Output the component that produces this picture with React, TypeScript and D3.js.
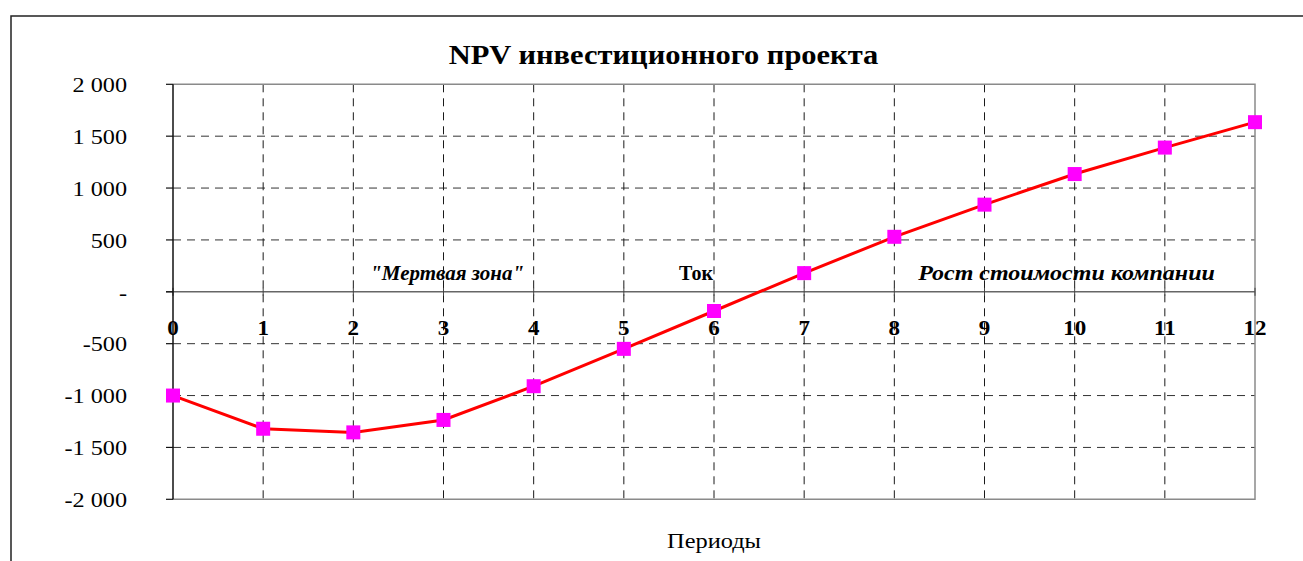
import React from "react";
import * as d3 from "d3";

const periods = [0, 1, 2, 3, 4, 5, 6, 7, 8, 9, 10, 11, 12];
const npv = [-1000, -1320, -1355, -1235, -910, -550, -185, 180, 530, 840, 1135, 1390, 1635];
const yTicks = [2000, 1500, 1000, 500, 0, -500, -1000, -1500, -2000];
const yTickLabels = ["2 000", "1 500", "1 000", "500", "-", "-500", "-1 000", "-1 500", "-2 000"];
const title = "NPV инвестиционного проекта";
const xTitle = "Периоды";
const annotations = [
  { text: "\"Мертвая зона\"", period: 3.04, italic: true, sx: 1.05 },
  { text: "Ток", period: 5.8, italic: false, sx: 1.0 },
  { text: "Рост стоимости компании", period: 9.91, italic: true, sx: 1.2 },
];

const W = 1303;
const H = 561;
const left = 173;
const right = 1255;
const top = 84.3;
const bottom = 499.3;
const font = "'Liberation Serif', 'Times New Roman', serif";

function SText(props: {
  x: number;
  y: number;
  sx?: number;
  anchor?: string;
  size: number;
  bold?: boolean;
  italic?: boolean;
  dy?: string;
  children: React.ReactNode;
}) {
  const { x, y, sx = 1, anchor = "middle", size, bold, italic, dy, children } = props;
  return (
    <text
      transform={`translate(${x},${y}) scale(${sx},1)`}
      textAnchor={anchor}
      fontSize={size}
      fontWeight={bold ? "bold" : "normal"}
      fontStyle={italic ? "italic" : "normal"}
      dy={dy}
      fill="#000"
    >
      {children}
    </text>
  );
}

export default function App() {
  const x = d3.scaleLinear().domain([0, 12]).range([left, right]);
  const y = d3.scaleLinear().domain([-2000, 2000]).range([bottom, top]);
  const line = d3
    .line<number>()
    .x((_, i) => x(periods[i]))
    .y((d) => y(d));
  const ms = 14;
  return (
    <svg
      width={W}
      height={H}
      style={{ position: "absolute", left: 0, top: 0, background: "#fff" }}
      fontFamily={font}
    >
      <rect x={0} y={0} width={W} height={H} fill="#fff" />
      {/* outer chart frame */}
      <path d={`M11,${H + 5} L11,16 L${W + 5},16`} fill="none" stroke="#222" strokeWidth={1.5} />
      <SText x={663.5} y={63.5} size={27} bold sx={1.13}>
        {title}
      </SText>
      {/* horizontal gridlines */}
      {yTicks.filter((t) => t !== 0 && t !== 2000 && t !== -2000).map((t) => (
        <line key={"h" + t} x1={left} x2={right} y1={y(t)} y2={y(t)} stroke="#333" strokeWidth={1} strokeDasharray="8,6" />
      ))}
      {/* vertical gridlines */}
      {periods.slice(1, -1).map((p) => (
        <line key={"v" + p} x1={x(p)} x2={x(p)} y1={top} y2={bottom} stroke="#1a1a1a" strokeWidth={1} strokeDasharray="8,6" />
      ))}
      {/* plot border */}
      <path d={`M${left},${top} L${right},${top} L${right},${bottom} L${left},${bottom}`} fill="none" stroke="#8a8a8a" strokeWidth={1.5} />
      {/* zero axis */}
      <line x1={left - 7} x2={right} y1={y(0)} y2={y(0)} stroke="#666" strokeWidth={1.5} />
      {periods.map((p) => (
        <line key={"xt" + p} x1={x(p)} x2={x(p)} y1={y(0) - 4} y2={y(0) + 4} stroke="#444" strokeWidth={1} />
      ))}
      {/* y axis */}
      <line x1={left} x2={left} y1={top} y2={bottom} stroke="#111" strokeWidth={1.5} />
      {yTicks.map((t, i) => (
        <g key={"yt" + t}>
          <line x1={left - 7} x2={left} y1={y(t)} y2={y(t)} stroke="#111" strokeWidth={1.2} />
          <SText x={127} y={y(t)} dy="0.35em" anchor="end" size={22} sx={1.1}>
            {yTickLabels[i]}
          </SText>
        </g>
      ))}
      {/* category labels */}
      {periods.map((p) => (
        <SText key={"xl" + p} x={x(p)} y={335} size={20} bold sx={1.15}>
          {p}
        </SText>
      ))}
      {/* annotations */}
      {annotations.map((a) => (
        <SText key={a.text} x={x(a.period)} y={280} size={20} bold italic={a.italic} sx={a.sx}>
          {a.text}
        </SText>
      ))}
      {/* series */}
      <path d={line(npv) || ""} fill="none" stroke="#ff0000" strokeWidth={3} />
      {npv.map((v, i) => (
        <rect key={"m" + i} x={x(periods[i]) - ms / 2} y={y(v) - ms / 2} width={ms} height={ms} fill="#ff00ff" />
      ))}
      <SText x={714} y={547.5} size={21} sx={1.16}>
        {xTitle}
      </SText>
    </svg>
  );
}
